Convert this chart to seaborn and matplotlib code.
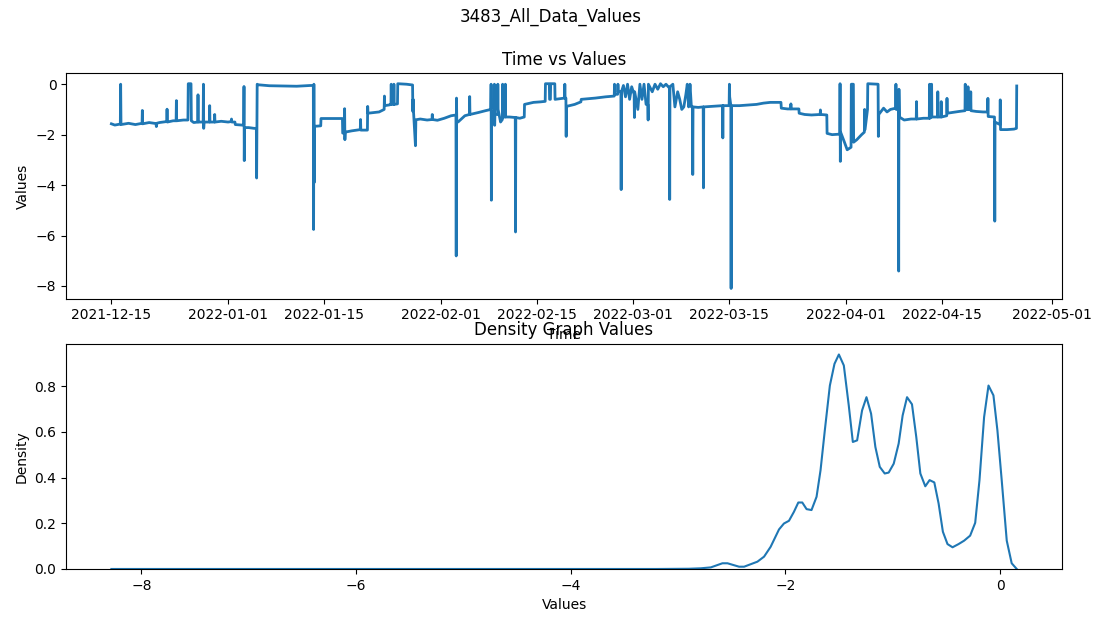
import matplotlib
matplotlib.use("Agg")
import matplotlib.pyplot as plt
import seaborn as sns
import pandas as pd

# Sensor readings: days elapsed since the first sample and the reading itself
start_date = "2021-12-15"
day_offset = [
    0.0, 0.5, 1.30, 1.35, 1.40, 2.5, 3.5,
    4.47, 4.51, 4.55, 5.5, 6.5, 6.55, 6.6, 7.0,
    8.07, 8.11, 8.15, 9.0, 9.43, 9.47, 9.51, 10.5,
    11.15, 11.2, 11.6, 11.65, 12.0, 12.58, 12.62, 12.66,
    13.37, 13.41, 13.45, 13.5, 14.28, 14.32, 14.36,
    15.01, 15.05, 15.09, 16.0, 17.0, 17.46, 17.5, 17.54,
    18.0, 18.05, 19.0, 19.28, 19.32, 19.36, 19.4,
    20.0, 20.8, 21.12, 21.16, 21.2, 21.24, 21.3,
    23.0, 25.0, 27.0, 29.0, 29.42, 29.46, 29.5, 29.54, 29.58,
    30.5, 30.54, 32.0, 33.66, 33.7, 33.94, 33.98, 34.02, 34.06,
    35.0, 36.26, 36.3, 36.34, 37.3, 37.34, 37.38,
    39.0, 39.74, 39.78, 39.82, 40.5, 40.73, 40.77, 40.81,
    41.12, 41.16, 41.2, 41.68, 41.72,
    43.0, 43.88, 43.92, 43.96, 44.0, 44.3, 44.36,
    45.0, 46.0, 46.71, 46.75, 46.79, 47.5, 48.5, 49.5,
    50.2, 50.24, 50.28, 50.32, 50.5, 51.5,
    52.16, 52.2, 52.24, 53.5, 54.5, 55.28, 55.32, 55.36, 55.4,
    55.76, 55.8, 55.84, 55.88, 56.26, 56.3, 56.34, 56.7,
    56.96, 57.0, 57.04, 57.36, 57.4, 57.44, 58.0, 58.84, 58.88, 58.92,
    59.5, 60.15, 60.19, 61.5, 62.5, 63.2, 63.24, 63.8, 63.84,
    63.96, 64.0, 64.6, 64.64, 65.5, 66.02, 66.06, 66.1,
    66.22, 66.26, 66.3, 67.5, 68.4, 68.45, 70.5, 72.0,
    73.26, 73.3, 73.34, 73.76, 73.8, 73.84, 74.23, 74.27, 74.31,
    74.6, 74.9, 75.2, 75.5, 75.8, 76.16, 76.2, 76.24, 76.7, 77.0,
    77.3, 77.6, 77.9, 78.16, 78.2, 78.24, 78.8, 79.2, 79.6, 80.0,
    80.4, 80.8, 81.3, 81.34, 81.38, 81.8, 82.1, 82.5, 82.8, 83.1,
    83.4, 83.7, 83.9, 84.1, 84.3, 84.5, 84.66, 84.7, 84.74,
    85.5, 86.22, 86.26, 86.3, 87.5, 89.04, 89.08, 89.12,
    90.0, 90.04, 90.08, 90.25, 90.29, 90.33, 91.5, 93.0,
    94.0, 95.0, 96.0, 97.55, 97.6, 98.5, 98.96, 99.0, 99.04,
    100.16, 100.2, 101.0, 102.0, 103.26, 103.3, 103.34, 104.23, 104.27,
    105.0, 106.12, 106.16, 106.2, 106.24, 106.8, 107.2, 107.76, 107.8, 108.1, 108.14,
    108.6, 109.3, 109.7, 109.74, 109.8, 110.16, 110.2, 111.7, 111.74, 111.8,
    112.5, 113.0, 113.5, 114.26, 114.3, 114.34, 114.66, 114.7, 114.74, 114.8,
    115.5, 116.5, 117.26, 117.3, 117.34, 118.3, 119.16, 119.2, 119.24,
    119.46, 119.5, 119.54, 120.36, 120.4, 120.44, 120.86, 120.9, 120.94,
    121.7, 121.74, 121.78, 122.5, 123.5, 124.36, 124.4, 124.44,
    124.76, 124.8, 124.84, 125.16, 125.2, 125.24, 126.0, 127.0,
    127.66, 127.7, 127.74, 128.5, 128.66, 128.7, 128.74, 129.46, 129.5, 129.54,
    130.5, 131.5, 131.86, 131.9,
]
readings = [
    -1.57, -1.62, -1.58, 0.0, -1.60, -1.55, -1.60,
    -1.55, -1.04, -1.57, -1.52, -1.56, -1.68, -1.55, -1.52,
    -1.48, -0.99, -1.50, -1.45, -1.45, -0.65, -1.45, -1.42,
    -1.42, 0.02, 0.02, -1.45, -1.52, -1.50, -0.42, -1.50,
    -1.50, 0.0, -1.75, -1.50, -1.50, -0.85, -1.50,
    -1.50, -1.20, -1.50, -1.47, -1.50, -1.48, -1.38, -1.50,
    -1.50, -1.60, -1.62, -1.62, -0.09, -3.03, -1.72,
    -1.72, -1.75, -1.75, -3.72, -1.75, 0.0, -0.02,
    -0.06, -0.07, -0.08, -0.05, -0.05, -5.76, 0.0, -3.90, -1.67,
    -1.65, -1.36, -1.36, -1.36, -1.94, -1.90, -0.97, -2.20, -1.90,
    -1.85, -1.80, -1.40, -1.82, -1.82, -0.88, -1.15,
    -1.10, -1.00, -0.47, -0.85, -0.82, -0.80, 0.0, -0.80,
    -0.80, 0.0, -0.80, -0.78, 0.02,
    0.0, -0.03, -1.08, -0.60, -1.00, -2.44, -1.41,
    -1.38, -1.42, -1.40, -1.20, -1.40, -1.43, -1.35, -1.25,
    -1.22, -6.81, -0.55, -1.45, -1.50, -1.25,
    -1.20, -0.49, -1.20, -1.12, -1.05, -1.00, 0.0, -4.60, -1.10,
    -1.10, 0.0, -1.63, -1.20, -1.20, 0.0, -1.00, -1.50,
    -1.40, 0.0, -1.30, -1.30, 0.0, -1.30, -1.30, -1.32, -5.86, -1.32,
    -1.35, -1.30, -0.80, -0.72, -0.70, -0.68, 0.02, 0.02, -0.60,
    -0.60, 0.02, 0.02, -0.60, -0.57, -0.55, 0.0, -0.55,
    -0.55, -2.07, -0.88, -0.80, -0.70, -0.60, -0.55, -0.50,
    -0.47, 0.0, -0.40, -0.40, 0.0, -0.30, -0.30, -4.18, -0.30,
    -0.05, -0.50, 0.0, -0.60, -0.10, -0.40, -1.32, -0.30, -1.00, 0.0,
    -0.60, 0.0, -0.80, -0.80, -1.42, 0.0, -0.30, 0.0, -0.20, 0.02,
    -0.10, 0.0, -0.15, -4.57, -0.10, 0.0, -0.90, -0.30, -0.60, -1.00,
    -0.90, -0.40, 0.0, -0.90, 0.0, -0.90, -0.90, -3.58, -0.90,
    -0.92, -0.90, -4.11, -0.90, -0.88, -0.85, -2.13, -0.85,
    -0.85, 0.0, -0.50, -0.85, -8.10, -0.85, -0.85, -0.82,
    -0.80, -0.75, -0.72, -0.72, -0.95, -0.98, -0.98, -0.78, -0.98,
    -0.98, -1.15, -1.20, -1.22, -1.20, -1.02, -1.20, -1.22, -1.95,
    -2.00, -1.98, 0.02, -3.06, -1.90, -2.30, -2.60, -2.50, 0.0, 0.0, -2.30,
    -2.20, -2.00, -1.90, -1.00, -1.80, -1.00, 0.02, 0.0, -2.07, -1.20,
    -0.95, -1.10, -1.00, -0.95, 0.0, -1.00, -1.00, -7.41, -0.20, -1.30,
    -1.42, -1.38, -1.38, -0.69, -1.38, -1.35, -1.35, 0.0, -1.35,
    -1.30, 0.0, -1.30, -1.30, -0.30, -1.30, -1.30, -0.69, -1.30,
    -1.25, -0.56, -1.15, -1.12, -1.08, -1.05, 0.0, -1.00,
    -1.00, -0.10, -1.00, -1.00, -0.30, -1.05, -1.08, -1.10,
    -1.10, -0.56, -1.28, -1.30, -1.30, -5.43, -1.50, -1.60, -0.62, -1.80,
    -1.80, -1.78, -1.75, -0.07,
]

# Kernel density estimate of the readings
density_x = [
    -8.28, -7.0, -6.0, -5.0, -4.0, -3.2, -2.9, -2.788, -2.695, -2.587, -2.540, -2.432,
    -2.385, -2.261, -2.199, -2.138, -2.060, -2.014, -1.967, -1.921, -1.880, -1.843,
    -1.803, -1.757, -1.710, -1.673, -1.633, -1.586, -1.543, -1.502, -1.456, -1.410,
    -1.372, -1.332, -1.286, -1.245, -1.202, -1.162, -1.121, -1.075, -1.038, -0.991,
    -0.945, -0.908, -0.867, -0.821, -0.781, -0.743, -0.697, -0.657, -0.613, -0.573,
    -0.533, -0.490, -0.443, -0.387, -0.335, -0.279, -0.232, -0.192, -0.149, -0.108,
    -0.062, -0.025, 0.015, 0.062, 0.108, 0.155,
]
density_y = [
    0.0, 0.0, 0.0, 0.0, 0.0, 0.0, 0.001, 0.003, 0.007, 0.025, 0.025, 0.010,
    0.010, 0.032, 0.054, 0.097, 0.173, 0.199, 0.211, 0.250, 0.291, 0.291,
    0.262, 0.258, 0.316, 0.432, 0.607, 0.803, 0.898, 0.939, 0.891, 0.716,
    0.556, 0.563, 0.694, 0.752, 0.680, 0.534, 0.447, 0.418, 0.422, 0.461,
    0.549, 0.672, 0.752, 0.721, 0.578, 0.418, 0.362, 0.389, 0.379, 0.287,
    0.163, 0.109, 0.095, 0.109, 0.124, 0.146, 0.202, 0.389, 0.665, 0.803,
    0.760, 0.607, 0.389, 0.124, 0.025, 0.0,
]

series = pd.DataFrame({
    "Time": pd.Timestamp(start_date) + pd.to_timedelta(day_offset, unit="D"),
    "Values": readings,
})
kde = pd.DataFrame({"Values": density_x, "Density": density_y})

fig, (ax1, ax2) = plt.subplots(2, 1, figsize=(11.02, 6.19), dpi=100)
fig.subplots_adjust(left=0.06, right=0.9637, top=0.8813, bottom=0.0808, hspace=0.2)
fig.suptitle("3483_All_Data_Values", y=0.987)

sns.lineplot(data=series, x="Time", y="Values", ax=ax1, color="#1f77b4", linewidth=2.0)
ax1.set_title("Time vs Values")
ax1.set_xlabel("Time")
ax1.set_ylabel("Values")

sns.lineplot(data=kde, x="Values", y="Density", ax=ax2, color="#1f77b4", linewidth=1.5)
ax2.set_ylim(0, max(density_y) * 1.05)
ax2.set_title("Density Graph Values")
ax2.set_xlabel("Values")
ax2.set_ylabel("Density")

fig.savefig("out.png", dpi=100)
